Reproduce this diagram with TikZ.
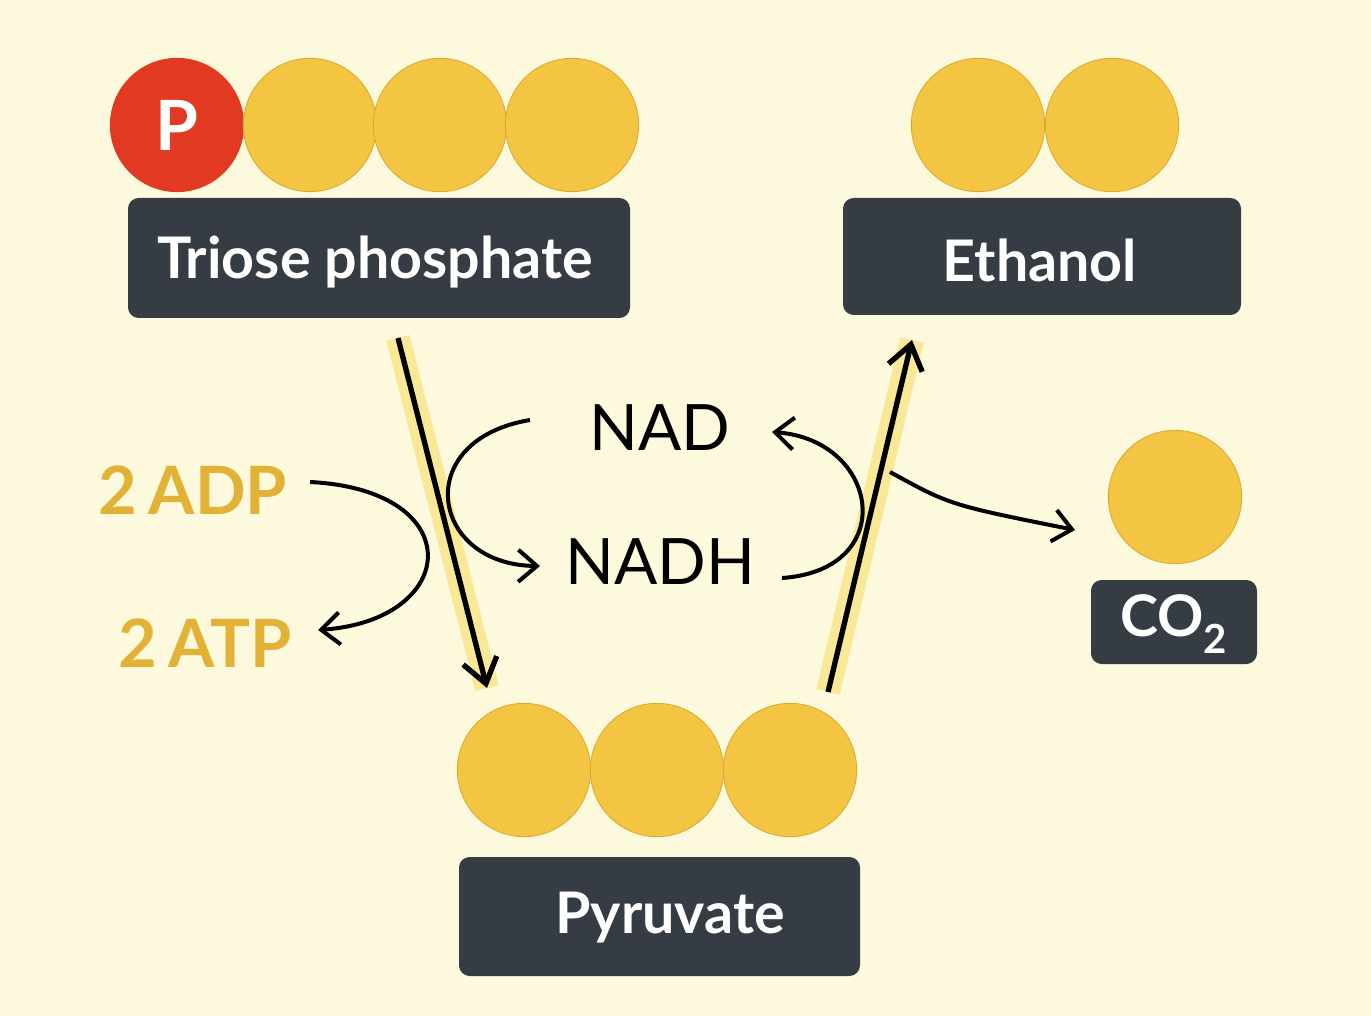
\documentclass[tikz,border=0pt]{standalone}
\usepackage{fontspec}
\setmainfont{Lato}
\usetikzlibrary{arrows.meta}
\definecolor{bgcol}{HTML}{FDF9DD}
\definecolor{carbon}{HTML}{F4C542}
\definecolor{carbonedge}{HTML}{D9A92C}
\definecolor{phos}{HTML}{E23A22}
\definecolor{boxcol}{HTML}{363C44}
\definecolor{gold}{HTML}{E2B236}
\definecolor{glow}{HTML}{F8E27A}
\tikzset{
  atom/.style={circle, fill=carbon, draw=carbonedge, line width=0.6pt, minimum size=100pt, inner sep=0pt},
  label box/.style={text=white, font=\bfseries\fontsize{43}{48}\selectfont},
  mol/.style={font=\fontsize{48}{52}\selectfont},
  energy/.style={text=gold, font=\bfseries\fontsize{50}{54}\selectfont},
  flow/.style={line width=4pt, -{Straight Barb[length=18pt,width=26pt,line width=4pt]}},
  thin flow/.style={line width=3pt, -{Straight Barb[length=14pt,width=24pt,line width=3pt]}},
  halo/.style={line width=18pt, glow, opacity=0.7},
}
\begin{document}
\begin{tikzpicture}[x=0.75pt,y=0.75pt,yscale=-1]
    \fill[bgcol] (0,0) rectangle (1371,1016);
    \useasboundingbox (0,0) rectangle (1371,1016);

    % triose phosphate
    \node[atom, fill=phos, draw=phos] (p) at (177,125) {\textcolor{white}{\bfseries\fontsize{52}{56}\selectfont P}};
    \foreach \i/\x in {1/310,2/440,3/572}
        \node[atom] (t\i) at (\x,125) {};
    \fill[boxcol, rounded corners=8pt] (128,198) rectangle (630,318);
    \node[label box] (triose) at (375,262) {Triose phosphate};

    % ethanol
    \foreach \i/\x in {1/978,2/1112}
        \node[atom] (e\i) at (\x,125) {};
    \fill[boxcol, rounded corners=8pt] (843,198) rectangle (1241,315);
    \node[label box] (ethanol) at (1040,260) {Ethanol};

    % carbon dioxide
    \node[atom] (c1) at (1175,497) {};
    \fill[boxcol, rounded corners=8pt] (1091,580) rectangle (1257,664);
    \node[label box] (co2) at (1174,624) {CO\textsubscript{2}};

    % pyruvate
    \foreach \i/\x in {1/524,2/657,3/790}
        \node[atom] (y\i) at (\x,770) {};
    \fill[boxcol, rounded corners=8pt] (459,857) rectangle (860,976);
    \node[label box] (pyruvate) at (670,918) {Pyruvate};

    % main arrows
    \coordinate (down a) at (398,338);
    \coordinate (down b) at (487,688);
    \coordinate (up a) at (828,692);
    \coordinate (up b) at (912,340);
    \draw[halo] (down a) -- (down b);
    \draw[halo] (up a) -- (up b);
    \draw[flow] (down a) -- (down b);
    \draw[flow] (up a) -- (up b);

    % cofactors
    \node[mol] (nad) at (660,428) {NAD};
    \node[mol] (nadh) at (660,562) {NADH};
    \node[energy] (adp) at (193,490) {2\,ADP};
    \node[energy] (atp) at (205,643) {2\,ATP};

    \coordinate (adp end) at (310,482);
    \coordinate (atp end) at (318,630);
    \coordinate (nad end) at (530,420);
    \coordinate (nadh end) at (540,566);
    \coordinate (nadh out) at (782,578);
    \coordinate (nad in) at (772,432);
    \draw[thin flow] (adp end) .. controls (470,490) and (460,620) .. (atp end);
    \draw[thin flow] (nad end) .. controls (410,440) and (430,565) .. (nadh end);
    \draw[thin flow] (nadh out) .. controls (900,570) and (880,440) .. (nad in);
    \coordinate (branch) at (890,472);
    \coordinate (co2 in) at (1075,530);
    \draw[thin flow] (branch) .. controls (950,505) .. (co2 in);
\end{tikzpicture}
\end{document}
